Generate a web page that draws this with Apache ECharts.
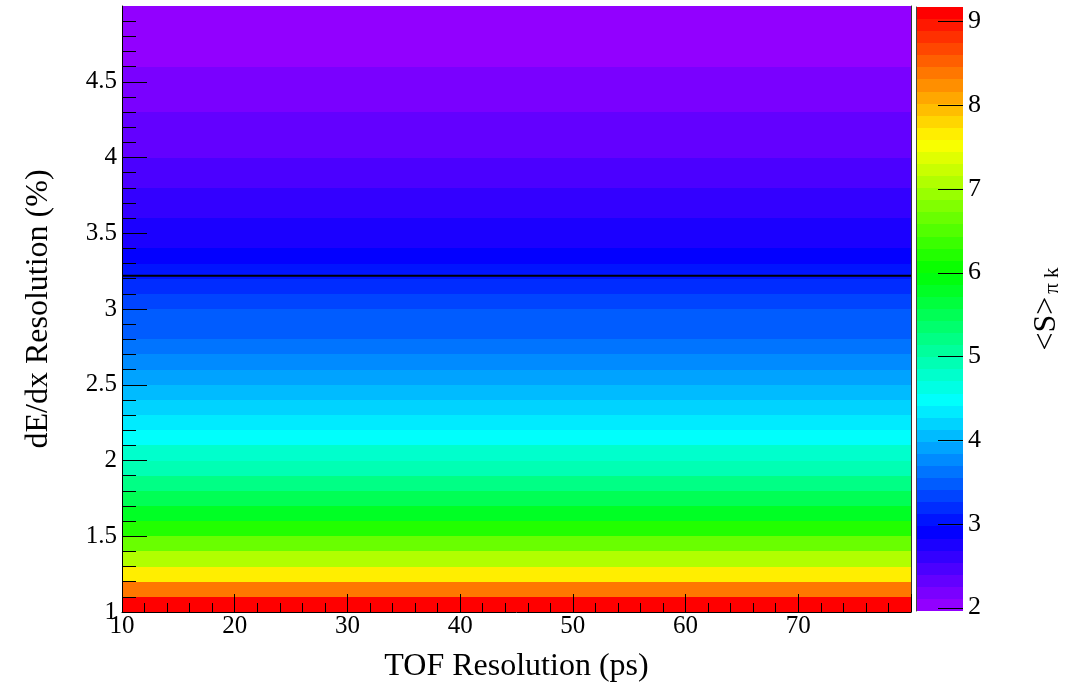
<!DOCTYPE html>
<html>
<head>
<meta charset="utf-8">
<script src="https://cdn.jsdelivr.net/npm/echarts@6/dist/echarts.min.js"></script>
<style>
html,body{margin:0;padding:0;background:#fff;}
#chart{width:1089px;height:688px;}
</style>
</head>
<body>
<div id="chart"></div>
<script>
// ---- data ----
const xRange = [10, 80];                 // TOF resolution range (ps)
const yEdges = [1.0,1.1,1.2,1.3,1.4,1.5,1.6,1.7,1.8,1.9,2.0,2.1,2.2,2.3,2.4,2.5,2.6,2.7,2.8,2.9,
                3.0,3.1,3.2,3.3,3.4,3.5,3.6,3.7,3.8,3.9,4.0,4.1,4.2,4.3,4.4,4.5,4.6,4.7,4.8,4.9,5.0];
// <S>_{pi k} per dE/dx bin (bottom to top), constant along TOF
const sValues = [9.17,8.38,7.66,7.08,6.65,6.21,5.78,5.49,5.20,4.92,
                 4.77,4.48,4.34,4.20,4.05,3.91,3.76,3.62,3.47,3.44,
                 3.33,3.19,3.04,2.90,2.78,2.72,2.65,2.58,2.50,2.44,
                 2.37,2.32,2.27,2.22,2.17,2.13,2.08,2.04,2.00,1.96];
const lineY = 3.22;                      // horizontal reference line
const xTickLabels = [10,20,30,40,50,60,70];
const yTickLabels = [1,1.5,2,2.5,3,3.5,4,4.5];
const zTickLabels = [2,3,4,5,6,7,8,9];
const nLevels = 50;

// ---- derived ----
const zMin = Math.min(...sValues), zMax = Math.max(...sValues);
const dz = (zMax - zMin) / nLevels;
const palette = [];
for (let i = 0; i < nLevels; i++) {
  const hue = 280 - (i + 1) * (280 / nLevels);
  palette.push('hsl(' + hue.toFixed(2) + ',100%,50%)');
}
const pieces = palette.map((c, k) => {
  const p = {color: c};
  p.gte = k === 0 ? zMin - 1e-9 : zMin + k * dz;
  if (k === nLevels - 1) p.lte = zMax + 1e-9; else p.lt = zMin + (k + 1) * dz;
  return p;
});
const barX = [0, 1];
const cellData = sValues.map((v, i) => [xRange[0], xRange[1], yEdges[i], yEdges[i + 1], v]);
const barData = palette.map((c, k) => [barX[0], barX[1], zMin + k * dz, zMin + (k + 1) * dz, zMin + (k + 0.5) * dz]);
const zTickData = zTickLabels.map(v => [barX[1], v]);

function renderRect(params, api) {
  const p0 = api.coord([api.value(0), api.value(3)]);
  const p1 = api.coord([api.value(1), api.value(2)]);
  const x0 = Math.round(p0[0]), y0 = Math.round(p0[1]);
  const x1 = Math.round(p1[0]), y1 = Math.round(p1[1]);
  return {type: 'rect', shape: {x: x0, y: y0, width: x1 - x0, height: y1 - y0},
          style: {fill: api.visual('color')}};
}
function renderTick(params, api) {
  const p = api.coord([api.value(0), api.value(1)]);
  const y = Math.round(p[1]) + 0.5;
  return {type: 'line', shape: {x1: p[0] - 25, y1: y, x2: p[0], y2: y},
          style: {stroke: '#000', lineWidth: 1}};
}

const FONT = 'Liberation Serif';
const chart = echarts.init(document.getElementById('chart'), null, {renderer: 'canvas'});
chart.setOption({
  animation: false,
  backgroundColor: '#fff',
  grid: [
    {left: 122, top: 6, width: 789, height: 606},
    {left: 916, top: 7, width: 47, height: 604}
  ],
  visualMap: {
    type: 'piecewise', show: false, dimension: 4, seriesIndex: [0, 1], pieces: pieces
  },
  xAxis: [
    {gridIndex: 0, type: 'value', min: xRange[0], max: xRange[1], interval: 10, z: 10,
     name: 'TOF Resolution (ps)', nameLocation: 'middle', nameGap: 39,
     nameTextStyle: {fontFamily: FONT, fontSize: 32, color: '#000'},
     axisLine: {lineStyle: {color: '#000', width: 1}},
     axisTick: {inside: true, length: 18, lineStyle: {color: '#000'}},
     minorTick: {show: true, splitNumber: 5, length: 9, lineStyle: {color: '#000'}},
     axisLabel: {customValues: xTickLabels, fontFamily: FONT, fontSize: 25, color: '#000', margin: 2},
     splitLine: {show: false}},
    {gridIndex: 1, type: 'value', min: barX[0], max: barX[1], show: false}
  ],
  yAxis: [
    {gridIndex: 0, type: 'value', min: yEdges[0], max: yEdges[yEdges.length - 1], interval: 0.5, z: 10,
     name: 'dE/dx Resolution (%)', nameLocation: 'middle', nameGap: 67,
     nameTextStyle: {fontFamily: FONT, fontSize: 32, color: '#000'},
     axisLine: {lineStyle: {color: '#000', width: 1}},
     axisTick: {inside: true, length: 25, customValues: yTickLabels, lineStyle: {color: '#000'}},
     minorTick: {show: true, splitNumber: 5, length: 14, lineStyle: {color: '#000'}},
     axisLabel: {customValues: yTickLabels, fontFamily: FONT, fontSize: 25, color: '#000', margin: 5},
     splitLine: {show: false}},
    {gridIndex: 0, type: 'value', position: 'right', min: yEdges[0], max: yEdges[yEdges.length - 1], z: 10,
     axisLine: {show: true, lineStyle: {color: '#333', width: 1}},
     axisTick: {show: false}, axisLabel: {show: false}, splitLine: {show: false}},
    {gridIndex: 1, type: 'value', position: 'right', min: zMin, max: zMax, z: 10,
     name: '{m|<S>}{s|π k}', nameLocation: 'middle', nameGap: 60, nameRotate: 90,
     nameTextStyle: {fontFamily: FONT, color: '#000',
       rich: {m: {fontFamily: FONT, fontSize: 32, color: '#000', verticalAlign: 'bottom', lineHeight: 40},
              s: {fontFamily: FONT, fontSize: 21, color: '#000', verticalAlign: 'bottom', lineHeight: 40, padding: [14, 0, 0, 3]}}},
     axisLine: {show: true, lineStyle: {color: '#444', width: 1}},
     axisTick: {show: false},
     axisLabel: {customValues: zTickLabels, fontFamily: FONT, fontSize: 26, color: '#000', margin: 5},
     splitLine: {show: false}}
  ],
  series: [
    {type: 'custom', xAxisIndex: 0, yAxisIndex: 0, renderItem: renderRect,
     encode: {x: [0, 1], y: [2, 3]}, data: cellData, silent: true},
    {type: 'custom', xAxisIndex: 1, yAxisIndex: 2, renderItem: renderRect,
     encode: {x: [0, 1], y: [2, 3]}, data: barData, silent: true},
    {type: 'line', xAxisIndex: 0, yAxisIndex: 0, symbol: 'none', z: 5,
     lineStyle: {color: '#000', width: 2},
     data: [[xRange[0], lineY], [xRange[1], lineY]]},
    {type: 'custom', xAxisIndex: 1, yAxisIndex: 2, renderItem: renderTick, z: 6,
     encode: {x: 0, y: 1}, data: zTickData, silent: true}
  ]
});
</script>
</body>
</html>
